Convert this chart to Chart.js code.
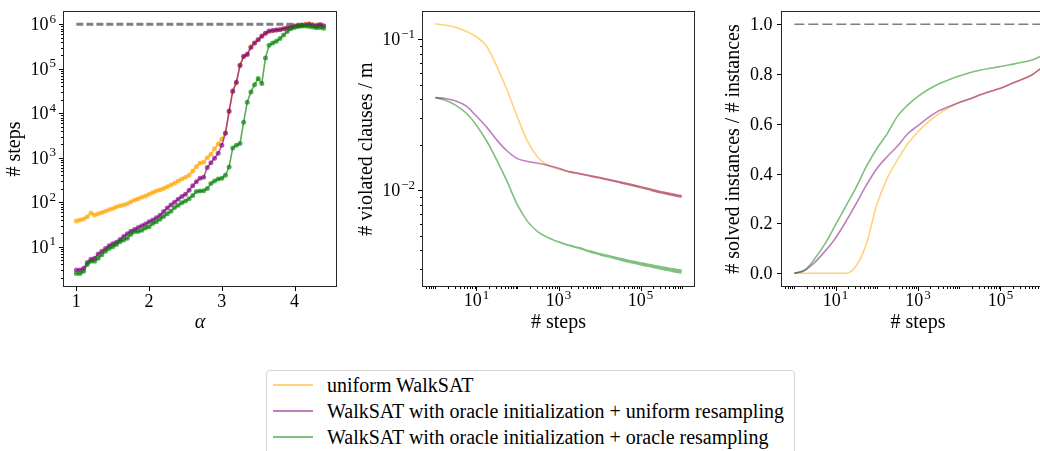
<!DOCTYPE html>
<html><head><meta charset="utf-8">
<script src="https://cdn.jsdelivr.net/npm/chart.js@4.4.1/dist/chart.umd.min.js"></script>
<style>
html,body{margin:0;padding:0;background:#fff;width:1040px;height:451px;overflow:hidden;position:relative;}
canvas{position:absolute;left:0;top:0;}
#legend{position:absolute;left:266px;top:370px;width:529px;height:100px;border:1px solid #d5d5d5;border-radius:4px;box-sizing:border-box;font-family:"Liberation Serif",serif;font-size:20px;color:#000;background:#fff;}
.row{position:absolute;left:0;width:520px;height:26px;}
.sw{position:absolute;left:6px;top:12px;width:40px;height:2px;}
.tx{position:absolute;left:60px;top:0;line-height:26px;white-space:nowrap;}
</style></head>
<body>
<canvas id="c1" width="1040" height="451"></canvas>
<canvas id="c2" width="1040" height="451"></canvas>
<canvas id="c3" width="1100" height="451"></canvas>
<div id="legend">
  <div class="row" style="top:1px"><div class="sw" style="background:rgba(255,165,0,0.5)"></div><div class="tx">uniform WalkSAT</div></div>
  <div class="row" style="top:27px"><div class="sw" style="background:rgba(128,0,128,0.5)"></div><div class="tx">WalkSAT with oracle initialization + uniform resampling</div></div>
  <div class="row" style="top:53px"><div class="sw" style="background:rgba(0,128,0,0.5)"></div><div class="tx">WalkSAT with oracle initialization + oracle resampling</div></div>
</div>
<script>
// ---------- data ----------
const alphas = [1.00,1.05,1.10,1.15,1.20,1.25,1.30,1.35,1.40,1.45,1.50,1.55,1.60,1.65,1.70,1.75,1.80,1.85,1.90,1.95,
  2.00,2.05,2.10,2.15,2.20,2.25,2.30,2.35,2.40,2.45,2.50,2.55,2.60,2.65,2.70,2.75,2.80,2.85,2.90,2.95,
  3.00,3.05,3.10,3.15,3.20,3.25,3.30,3.35,3.40,3.45,3.50,3.55,3.60,3.65,3.70,3.75,3.80,3.85,3.90,3.95,
  4.00,4.05,4.10,4.15,4.20,4.25,4.30,4.35,4.40];
const stepsUniform = [38,40,42,47,57,52,55,59,63,68,72,78,83,87,93,102,112,120,129,138,
  151,166,178,191,204,224,245,269,302,331,363,407,501,631,759,794,1000,1202,1585,2042,
  2630,3631,10700,30200,47900,117500,186000,219000,316000,380000,457000,550000,631000,692000,724000,741000,776000,794000,832000,871000,
  912000,933000,955000,1000000,1023000,977000,955000,977000,933000];
const stepsOracleUniform = [3.0,3.0,3.3,4.4,5.2,5.5,6.9,7.9,9.1,10.5,11.7,12.6,14.5,17.0,19.5,22.4,24.5,26.9,29.5,32.4,
  36.3,39.8,44.7,51.3,61.7,74.1,87.1,100,117,135,151,186,234,288,347,363,603,776,977,1259,
  1905,3548,11220,31600,50100,120000,190500,209000,302000,380000,447000,537000,631000,708000,724000,741000,759000,794000,832000,871000,
  912000,933000,955000,977000,1000000,955000,933000,977000,912000];
const stepsOracleOracle = [2.5,2.5,2.8,4.0,4.7,4.7,5.5,6.6,7.9,9.1,10.0,11.2,12.9,14.1,15.5,19.1,21.9,21.9,23.4,26.3,
  28.2,33.1,36.3,41.7,47.9,55.0,63.1,75.9,85.1,97.7,107,120,141,174,178,182,204,263,302,331,
  347,407,617,1660,1905,2089,6310,17800,30200,43650,60300,46800,174000,339000,380000,417000,479000,575000,692000,794000,
  851000,891000,912000,912000,891000,871000,832000,851000,813000];
const maxSteps = 1000000;

const stepGrid = [1,1.778,3.162,5.623,10,17.78,31.62,56.23,100,177.8,316.2,562.3,1000,1778,3162,5623,
  10000,17783,31623,56234,100000,177828,316228,562341,1000000];
const violatedUniform = [0.1265,0.124,0.120,0.113,0.104,0.090,0.066,0.046,0.0305,0.021,0.0165,0.0146,0.0138,
  0.0133,0.0129,0.0125,0.0121,0.0117,0.0113,0.0109,0.0105,0.0101,0.0097,0.0094,0.0091];
const violatedOracleUniform = [0.0411,0.0405,0.0390,0.0362,0.0310,0.0262,0.0215,0.0182,0.0162,0.0155,0.0151,0.0146,0.0140,
  0.0133,0.0129,0.0125,0.0121,0.0117,0.0113,0.0109,0.0105,0.0101,0.0097,0.0094,0.0091];
const violatedOracleOracle = [0.0411,0.0395,0.0365,0.0325,0.0270,0.0212,0.0158,0.0114,0.0080,0.0062,0.0053,0.00485,0.00455,
  0.00432,0.00415,0.00395,0.00378,0.00364,0.00350,0.00337,0.00326,0.00316,0.00306,0.00297,0.00289];
const solvedUniform = [0,0,0,0,0,0,0.03,0.12,0.275,0.38,0.455,0.52,0.568,0.608,0.64,0.664,0.686,0.70,0.716,0.73,0.743,0.76,0.777,0.795,0.825];
const solvedOracleUniform = [0,0.012,0.045,0.09,0.142,0.208,0.28,0.355,0.42,0.468,0.51,0.56,0.593,0.625,0.652,0.67,0.686,0.70,0.716,0.73,0.743,0.76,0.777,0.795,0.825];
const solvedOracleOracle = [0,0.012,0.06,0.12,0.195,0.27,0.345,0.43,0.50,0.56,0.63,0.675,0.71,0.738,0.76,0.777,0.792,0.805,0.815,0.823,0.83,0.838,0.846,0.855,0.872];
const solvedMax = 1.0;

const alphaTicks = [1,2,3,4];
const stepsTicks = [10,100,1000,10000,100000,1000000];
const stepsTickExp = ['1','2','3','4','5','6'];
const logStepTicks = [10,1000,100000];
const logStepTickExp = ['1','3','5'];
const violatedTicks = [0.01,0.1];
const violatedTickExp = ['\u22122','\u22121'];
const solvedTicks = [0,0.2,0.4,0.6,0.8,1.0];
const solvedTickLabels = ['0.0','0.2','0.4','0.6','0.8','1.0'];

// ---------- helpers ----------
const FONT = '"Liberation Serif", serif';
const TSIZE = 18, ESIZE = 13, MAJOR = 5, MINOR = 3, PAD = 3;
function pts(xs, ys){ return xs.map((x,i)=>({x:x, y:ys[i]})); }
function logMinors(lo, hi){ const out=[]; for(let k=-4;k<=7;k++){ for(let m=2;m<=9;m++){ const v=m*Math.pow(10,k); if(v>lo && v<hi) out.push(v);} } return out; }

function drawLabel(ctx, lab, x, baseline, align){
  ctx.textBaseline='alphabetic'; ctx.textAlign='left'; ctx.fillStyle='#000';
  if (typeof lab === 'string'){
    ctx.font = TSIZE+'px '+FONT;
    const w = ctx.measureText(lab).width;
    const x0 = align==='right' ? x-w-1.5 : x-w/2;
    ctx.fillText(lab, x0, baseline); return;
  }
  ctx.font = TSIZE+'px '+FONT; const wb = ctx.measureText(lab.b).width;
  ctx.font = ESIZE+'px '+FONT; const we = ctx.measureText(lab.e).width;
  const tot = wb+we+1;
  const x0 = align==='right' ? x-tot : x-tot/2;
  ctx.font = TSIZE+'px '+FONT; ctx.fillText(lab.b, x0, baseline);
  ctx.font = ESIZE+'px '+FONT; ctx.fillText(lab.e, x0+wb+1, baseline-7.5);
}

const mplPlugin = {
  id: 'mpl',
  afterDraw(chart){
    const o = chart.options.plugins.mpl; if(!o) return;
    const ctx = chart.ctx, a = chart.chartArea, xs = chart.scales.x, ys = chart.scales.y;
    const L=a.left, R=a.right, T=a.top, B=a.bottom;
    ctx.save();
    ctx.strokeStyle='#000'; ctx.lineWidth=1;
    const line=(x1,y1,x2,y2)=>{ctx.beginPath();ctx.moveTo(x1,y1);ctx.lineTo(x2,y2);ctx.stroke();};
    (o.xMinor||[]).forEach(v=>{const p=Math.round(xs.getPixelForValue(v))+0.5; if(p>=L&&p<=R) line(p,B,p,B+MINOR);});
    (o.yMinor||[]).forEach(v=>{const p=Math.round(ys.getPixelForValue(v))+0.5; if(p>=T&&p<=B) line(L-MINOR,p,L,p);});
    o.xMajor.forEach((v,i)=>{const p=xs.getPixelForValue(v); const pr=Math.round(p)+0.5; line(pr,B,pr,B+MAJOR); drawLabel(ctx,o.xLabels[i],p,B+o.xBase,'center');});
    o.yMajor.forEach((v,i)=>{const p=ys.getPixelForValue(v); const pr=Math.round(p)+0.5; line(L-MAJOR,pr,L,pr); drawLabel(ctx,o.yLabels[i],L-MAJOR-PAD,p+6,'right');});
    ctx.strokeStyle='#262626';
    ctx.strokeRect(L-0.5,T-0.5,R-L+1,B-T+1);
    ctx.restore();
  }
};
Chart.register(mplPlugin);

function axis(type,min,max,fixed,title,titlePad,isX,italic){
  return {type:type,min:min,max:max,
    ticks:{display:false}, grid:{display:false}, border:{display:false},
    title:{display:true,text:title,color:'#000',font:{family:FONT,size:20,style:italic?'italic':'normal'},padding:titlePad},
    afterFit:(s)=>{ if(isX) s.height=fixed; else s.width=fixed; }};
}
function makeChart(id, W, box, yw, datasets, xs, ys, mpl){
  const xh = 60;
  return new Chart(document.getElementById(id), {
    type:'line',
    data:{datasets:datasets},
    options:{responsive:false,animation:false,devicePixelRatio:1,
      layout:{padding:{left:box.l-yw, right:W-box.r, top:box.t, bottom:451-box.b-xh}},
      plugins:{legend:{display:false},tooltip:{enabled:false},mpl:mpl},
      scales:{x:xs, y:ys}
    }
  });
}
const C_OR = a=>'rgba(255,165,0,'+a+')', C_PU = a=>'rgba(128,0,128,'+a+')', C_GR = a=>'rgba(0,128,0,'+a+')';
function lineDs(data,color,w,order,extra){ return Object.assign({data:data,borderColor:color,backgroundColor:color,borderWidth:w,pointRadius:0,fill:false,tension:0,order:order}, extra||{}); }
// noisy tails of the long runs look thicker in the reference
function growWidth(w0, w1, from, n){ return {borderWidth: c => { const i = c.p0DataIndex; return i < from ? w0 : w0 + (w1-w0)*(i-from+1)/(n-1-from); } }; }

// ---------- panel 1 ----------
const a0 = alphas[0], a1 = alphas[alphas.length-1];
const mk = (c)=>({pointRadius:2.5,pointBorderWidth:0,pointBackgroundColor:c});
makeChart('c1',1040,{l:64,r:336,t:12,b:286},64,[
  lineDs([{x:a0,y:maxSteps},{x:a1,y:maxSteps}],'#7f7f7f',3,10,{borderDash:[7,3]}),
  lineDs(pts(alphas,stepsUniform),C_OR(0.65),1.6,3,mk(C_OR(0.65))),
  lineDs(pts(alphas,stepsOracleUniform),C_PU(0.65),1.6,2,mk(C_PU(0.65))),
  lineDs(pts(alphas,stepsOracleOracle),C_GR(0.65),1.6,1,mk(C_GR(0.65)))
],
  axis('linear',0.83,4.57,60,'\u03b1',{top:0,bottom:11},true,true),
  axis('logarithmic',1.31,1.89e6,64,'# steps',{top:2.5,bottom:0},false,false),
  {xMajor:alphaTicks,xLabels:alphaTicks.map(String),xBase:21,
   yMajor:stepsTicks,yLabels:stepsTickExp.map(e=>({b:'10',e:e})),yMinor:logMinors(1.31,1.89e6)});

// ---------- panel 2 ----------
const n2 = stepGrid.length;
makeChart('c2',1040,{l:423,r:694,t:12,b:286},70,[
  lineDs(pts(stepGrid,violatedUniform),C_OR(0.5),1.6,3,{cubicInterpolationMode:'monotone',segment:growWidth(1.6,2.8,12,n2)}),
  lineDs(pts(stepGrid,violatedOracleUniform),C_PU(0.5),1.6,2,{cubicInterpolationMode:'monotone',segment:growWidth(1.6,2.8,12,n2)}),
  lineDs(pts(stepGrid,violatedOracleOracle),C_GR(0.5),1.6,1,{cubicInterpolationMode:'monotone',segment:growWidth(1.6,4.2,12,n2)})
],
  axis('logarithmic',0.501,1.995e6,60,'# steps',{top:0,bottom:11},true,false),
  axis('logarithmic',0.002323,0.1517,70,'# violated clauses / m',{top:1.5,bottom:0},false,false),
  {xMajor:logStepTicks,xLabels:logStepTickExp.map(e=>({b:'10',e:e})),xBase:20,xMinor:logMinors(0.501,1.995e6).concat([1,100,10000,1000000]),
   yMajor:violatedTicks,yLabels:violatedTickExp.map(e=>({b:'10',e:e})),yMinor:logMinors(0.002323,0.1517)});

// ---------- panel 3 ----------
makeChart('c3',1100,{l:782,r:1054,t:12,b:286},60,[
  lineDs([{x:stepGrid[0],y:solvedMax},{x:stepGrid[stepGrid.length-1],y:solvedMax}],'#7f7f7f',1.5,10,{borderDash:[10,4]}),
  lineDs(pts(stepGrid,solvedUniform),C_OR(0.5),1.6,3,{cubicInterpolationMode:'monotone'}),
  lineDs(pts(stepGrid,solvedOracleUniform),C_PU(0.5),1.6,2,{cubicInterpolationMode:'monotone'}),
  lineDs(pts(stepGrid,solvedOracleOracle),C_GR(0.5),1.6,1,{cubicInterpolationMode:'monotone'})
],
  axis('logarithmic',0.501,1.995e6,60,'# steps',{top:0,bottom:11},true,false),
  axis('linear',-0.051,1.049,60,'# solved instances / # instances',{top:0,bottom:0},false,false),
  {xMajor:logStepTicks,xLabels:logStepTickExp.map(e=>({b:'10',e:e})),xBase:20,xMinor:logMinors(0.501,1.995e6).concat([1,100,10000,1000000]),
   yMajor:solvedTicks,yLabels:solvedTickLabels});
</script>
</body></html>
